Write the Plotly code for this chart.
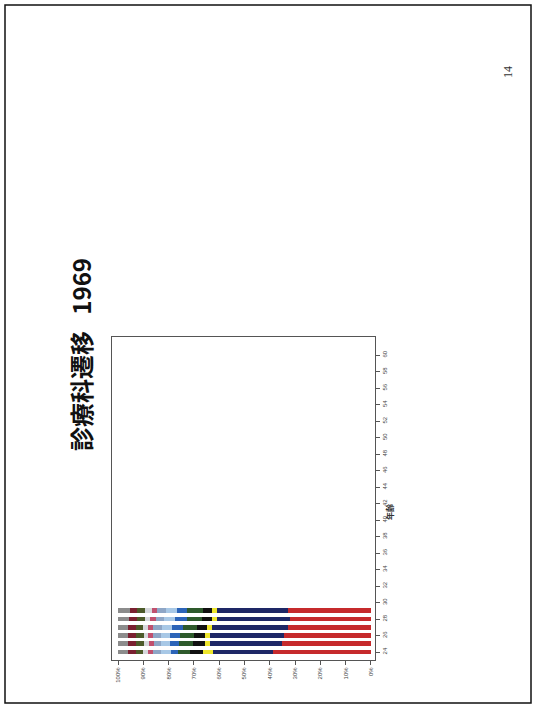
import plotly.graph_objects as go

ages = [24, 25, 26, 27, 28, 29]
age_ticks = list(range(24, 61, 2))
pct_ticks = [0, 10, 20, 30, 40, 50, 60, 70, 80, 90, 100]
pct_labels = ["0%", "10%", "20%", "30%", "40%", "50%", "60%", "70%", "80%", "90%", "100%"]

departments = ["内科", "外科", "眼科", "整形外科", "小児科", "産婦人科", "耳鼻咽喉科",
               "皮膚科", "泌尿器科", "精神科", "麻酔科", "放射線科", "その他"]
naika = [38.7, 35.0, 34.4, 32.8, 32.0, 32.8]
geka = [23.8, 28.5, 29.2, 30.0, 28.9, 28.0]
ganka = [4.0, 2.0, 2.0, 2.0, 2.0, 2.0]
seikei = [5.0, 4.8, 4.5, 4.0, 4.0, 3.6]
shoni = [5.0, 5.5, 5.5, 5.5, 6.0, 6.3]
sanfu = [2.5, 3.5, 4.0, 4.5, 4.5, 4.0]
jibi = [4.0, 3.6, 3.5, 4.0, 4.3, 4.3]
hifu = [3.0, 3.0, 3.0, 3.2, 3.5, 3.6]
hinyo = [2.0, 2.0, 2.0, 2.0, 2.0, 2.0]
seishin = [2.0, 2.0, 1.8, 2.0, 2.0, 2.6]
masui = [3.0, 3.2, 3.0, 3.0, 3.5, 3.2]
hoshasen = [3.0, 3.0, 3.2, 3.0, 3.0, 2.8]
sonota = [4.0, 3.9, 3.9, 4.0, 4.3, 4.8]

series = [naika, geka, ganka, seikei, shoni, sanfu, jibi, hifu, hinyo, seishin, masui, hoshasen, sonota]
colors = ["#C62A2C", "#1E2766", "#EDE52C", "#111111", "#2E5A2C", "#2C64B8", "#A8C8E6",
          "#8EA6C6", "#C0506E", "#D6D8DC", "#4C5A2A", "#7A2030", "#8C8C8C"]

fig = go.Figure()
for name, vals, col in zip(departments, series, colors):
    fig.add_trace(go.Bar(y=ages, x=vals, name=name, orientation="h",
                         marker=dict(color=col, line=dict(width=0)), width=0.6))

W, H = 537, 710
L, R, T, B = 112, 375, 337, 660

def px(x):
    return (x - L) / (R - L)

def py(y):
    return (B - y) / (B - T)

fig.update_layout(
    width=W, height=H,
    margin=dict(l=L, r=W - R, t=T, b=H - B, pad=0, autoexpand=False),
    barmode="stack",
    showlegend=False,
    plot_bgcolor="white", paper_bgcolor="white",
    font=dict(family="Liberation Sans, Arial", color="#333"),
    xaxis=dict(range=[102.4, -1.6], tickvals=pct_ticks, ticktext=pct_labels,
               tickangle=-90, tickfont=dict(size=6, color="#444"),
               ticks="outside", ticklen=4, tickcolor="#555",
               showline=True, linecolor="#555", linewidth=1, mirror=True,
               showgrid=False, zeroline=False, automargin=False),
    yaxis=dict(range=[23.03, 62.2], tickvals=age_ticks, side="right",
               tickangle=-90, tickfont=dict(size=6, color="#444"),
               ticks="outside", ticklen=4, tickcolor="#555",
               showline=True, linecolor="#555", linewidth=1, mirror=True,
               showgrid=False, zeroline=False, automargin=False),
    shapes=[
        dict(type="rect", xref="paper", yref="paper",
             x0=px(5), x1=px(531), y0=py(703), y1=py(5),
             line=dict(color="#111", width=1.5), fillcolor="rgba(0,0,0,0)", layer="above"),
    ],
    annotations=[
        dict(text="<b>診療科遷移   1969</b>", xref="paper", yref="paper",
             x=px(80), y=py(355), xanchor="center", yanchor="middle",
             textangle=-90, showarrow=False,
             font=dict(size=24, family="Noto Sans CJK JP", color="#111")),
        dict(text="14", xref="paper", yref="paper",
             x=px(508), y=py(72), xanchor="center", yanchor="middle",
             textangle=-90, showarrow=False,
             font=dict(size=12, family="Liberation Serif", color="#333")),
        dict(text="<b>年齢</b>", xref="paper", yref="paper",
             x=px(389), y=py(512), xanchor="center", yanchor="middle",
             textangle=-90, showarrow=False,
             font=dict(size=8, family="Noto Sans CJK JP", color="#333")),
    ],
)

fig.write_html("out.html",
               config={"displayModeBar": False, "staticPlot": True},
               post_script="document.body.style.margin='0';document.body.style.overflow='hidden';")
